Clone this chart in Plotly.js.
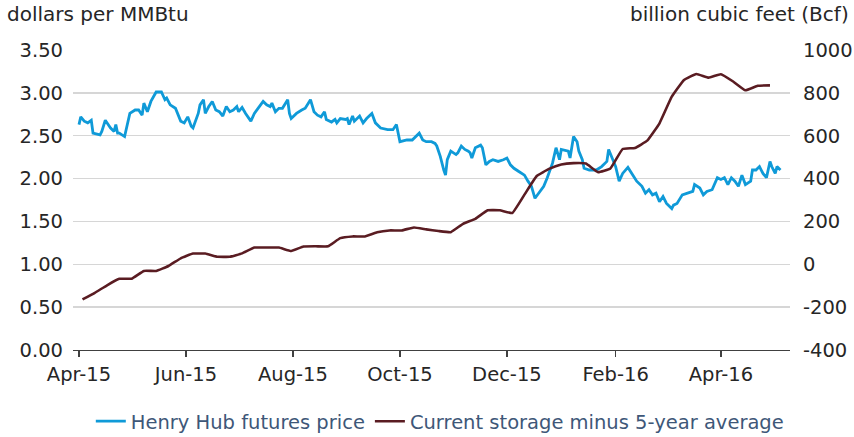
<!DOCTYPE html>
<html>
<head>
<meta charset="utf-8">
<script src="https://cdn.plot.ly/plotly-3.0.1.min.js"></script>
<style>html,body{margin:0;padding:0;background:#fff;}#chart{width:854px;height:437px;}</style>
</head>
<body>
<div id="chart"></div>
<script>
// Henry Hub futures price (dollars per MMBtu)
var priceDates = ['2015-04-01','2015-04-02','2015-04-04','2015-04-06','2015-04-08','2015-04-09','2015-04-13','2015-04-14','2015-04-16','2015-04-19','2015-04-21','2015-04-22','2015-04-23','2015-04-24','2015-04-27','2015-04-30','2015-05-03','2015-05-05','2015-05-07','2015-05-08','2015-05-10','2015-05-12','2015-05-15','2015-05-18','2015-05-20','2015-05-21','2015-05-23','2015-05-26','2015-05-29','2015-05-31','2015-06-02','2015-06-04','2015-06-05','2015-06-08','2015-06-09','2015-06-11','2015-06-12','2015-06-14','2015-06-16','2015-06-18','2015-06-20','2015-06-22','2015-06-24','2015-06-26','2015-06-28','2015-06-30','2015-07-01','2015-07-03','2015-07-05','2015-07-08','2015-07-10','2015-07-13','2015-07-15','2015-07-17','2015-07-19','2015-07-20','2015-07-22','2015-07-24','2015-07-26','2015-07-29','2015-07-30','2015-07-31','2015-08-03','2015-08-06','2015-08-08','2015-08-11','2015-08-13','2015-08-15','2015-08-17','2015-08-19','2015-08-20','2015-08-23','2015-08-25','2015-08-26','2015-08-28','2015-08-31','2015-09-01','2015-09-02','2015-09-04','2015-09-05','2015-09-08','2015-09-10','2015-09-12','2015-09-15','2015-09-17','2015-09-20','2015-09-24','2015-09-27','2015-09-29','2015-10-01','2015-10-05','2015-10-08','2015-10-10','2015-10-12','2015-10-14','2015-10-16','2015-10-19','2015-10-21','2015-10-22','2015-10-24','2015-10-26','2015-10-27','2015-10-28','2015-10-30','2015-11-02','2015-11-03','2015-11-05','2015-11-07','2015-11-09','2015-11-10','2015-11-11','2015-11-13','2015-11-16','2015-11-17','2015-11-19','2015-11-21','2015-11-23','2015-11-26','2015-11-29','2015-12-01','2015-12-03','2015-12-05','2015-12-08','2015-12-11','2015-12-13','2015-12-15','2015-12-17','2015-12-19','2015-12-22','2015-12-24','2015-12-26','2015-12-27','2015-12-29','2015-12-31','2016-01-01','2016-01-03','2016-01-05','2016-01-06','2016-01-08','2016-01-10','2016-01-11','2016-01-13','2016-01-14','2016-01-17','2016-01-21','2016-01-24','2016-01-27','2016-01-28','2016-01-30','2016-02-01','2016-02-03','2016-02-05','2016-02-08','2016-02-11','2016-02-13','2016-02-16','2016-02-18','2016-02-20','2016-02-22','2016-02-24','2016-02-26','2016-02-28','2016-03-01','2016-03-04','2016-03-05','2016-03-07','2016-03-10','2016-03-13','2016-03-16','2016-03-17','2016-03-20','2016-03-22','2016-03-24','2016-03-27','2016-03-30','2016-04-01','2016-04-03','2016-04-05','2016-04-07','2016-04-09','2016-04-11','2016-04-13','2016-04-15','2016-04-18','2016-04-19','2016-04-21','2016-04-23','2016-04-25','2016-04-27','2016-04-29','2016-04-30','2016-05-02','2016-05-03','2016-05-05'];
var priceValues = [2.63,2.72,2.67,2.65,2.68,2.53,2.51,2.55,2.68,2.59,2.55,2.63,2.53,2.53,2.49,2.76,2.80,2.80,2.74,2.88,2.78,2.90,3.01,3.01,2.92,2.94,2.86,2.82,2.67,2.65,2.72,2.61,2.59,2.76,2.86,2.92,2.76,2.84,2.90,2.80,2.78,2.73,2.84,2.78,2.80,2.84,2.78,2.83,2.76,2.67,2.76,2.84,2.90,2.86,2.84,2.88,2.78,2.82,2.82,2.92,2.76,2.70,2.76,2.80,2.82,2.92,2.78,2.74,2.72,2.78,2.69,2.66,2.69,2.65,2.70,2.69,2.70,2.63,2.73,2.67,2.73,2.65,2.70,2.76,2.65,2.59,2.57,2.57,2.63,2.43,2.45,2.45,2.49,2.53,2.45,2.43,2.43,2.41,2.38,2.26,2.10,2.04,2.22,2.32,2.28,2.30,2.38,2.34,2.32,2.30,2.24,2.36,2.39,2.36,2.16,2.20,2.22,2.20,2.22,2.24,2.16,2.12,2.08,2.04,1.97,1.91,1.77,1.83,1.91,2.01,2.14,2.18,2.36,2.22,2.34,2.33,2.32,2.24,2.49,2.43,2.32,2.22,2.12,2.10,2.10,2.14,2.20,2.34,2.24,2.14,1.97,2.06,2.13,2.03,1.97,1.91,1.83,1.87,1.81,1.83,1.73,1.79,1.71,1.65,1.69,1.71,1.81,1.83,1.85,1.93,1.89,1.81,1.85,1.87,2.01,1.99,2.01,1.93,2.01,1.97,1.91,2.04,1.93,1.97,2.10,2.10,2.14,2.06,2.01,2.20,2.14,2.06,2.14,2.10];

// Current storage minus 5-year average (Bcf), weekly
var storageDates = ['2015-04-03','2015-04-10','2015-04-17','2015-04-24','2015-05-01','2015-05-08','2015-05-15','2015-05-22','2015-05-29','2015-06-05','2015-06-12','2015-06-19','2015-06-26','2015-07-03','2015-07-10','2015-07-17','2015-07-24','2015-07-31','2015-08-07','2015-08-14','2015-08-21','2015-08-28','2015-09-04','2015-09-11','2015-09-18','2015-09-25','2015-10-02','2015-10-09','2015-10-16','2015-10-23','2015-10-30','2015-11-06','2015-11-13','2015-11-20','2015-11-27','2015-12-04','2015-12-11','2015-12-18','2015-12-25','2016-01-01','2016-01-08','2016-01-15','2016-01-22','2016-01-29','2016-02-05','2016-02-12','2016-02-19','2016-02-26','2016-03-04','2016-03-11','2016-03-18','2016-03-25','2016-04-01','2016-04-08','2016-04-15','2016-04-22','2016-04-29'];
var storageValues = [-164,-133,-98,-68,-67,-31,-31,-8,28,50,50,35,35,51,78,78,78,62,83,84,84,122,130,130,149,158,158,172,163,155,150,189,212,252,252,239,325,412,445,466,472,470,430,447,538,543,577,658,782,860,888,871,887,853,812,833,835];

// Axis ticks
var priceTickVals = [0,0.5,1,1.5,2,2.5,3,3.5];
var priceTickText = ['0.00','0.50','1.00','1.50','2.00','2.50','3.00','3.50'];
var storageTickVals = [-400,-200,0,200,400,600,800,1000];
var storageTickText = ['-400','-200','0','200','400','600','800','1000'];
var seriesNames = ['Henry Hub futures price','Current storage minus 5-year average'];

var FONT = 'DejaVu Sans, Liberation Sans, Arial, sans-serif';
var TXT = '#262626';
var FS = 19.5;

var traces = [
  {x: priceDates, y: priceValues, type: 'scatter', mode: 'lines', name: seriesNames[0],
   line: {color: '#0F9AD8', width: 2.8}, yaxis: 'y', hoverinfo: 'skip'},
  {x: storageDates, y: storageValues, type: 'scatter', mode: 'lines', name: seriesNames[1],
   line: {color: '#5A1C22', width: 2.6, shape: 'spline', smoothing: 0.3}, yaxis: 'y2', hoverinfo: 'skip'}
];

var layout = {
  width: 854, height: 437,
  margin: {l: 73, r: 64, t: 50, b: 87, pad: 0},
  paper_bgcolor: '#ffffff', plot_bgcolor: '#ffffff',
  font: {family: FONT, size: FS, color: TXT},
  showlegend: true,
  legend: {orientation: 'h', xref: 'container', yref: 'container', x: 0.515, xanchor: 'center',
           y: 0.08, yanchor: 'top', font: {family: FONT, size: FS, color: '#3E5778'},
           itemwidth: 30, tracegroupgap: 0, itemclick: false},
  xaxis: {type: 'date', range: ['2015-03-28 14:00', '2016-05-10 10:00'],
          tick0: '2015-04-01', dtick: 'M2', tickformat: '%b-%y',
          showgrid: false, zeroline: false, showline: true, linecolor: '#404040', linewidth: 1.3,
          ticks: 'outside', ticklen: 6, tickwidth: 1.3, tickcolor: '#404040',
          tickfont: {family: FONT, size: FS, color: TXT}, fixedrange: true},
  yaxis: {range: [0, 3.5], tickmode: 'array', tickvals: priceTickVals, ticktext: priceTickText,
          showgrid: true, gridcolor: '#D6D6D6', gridwidth: 1.5, zeroline: false, showline: false,
          ticks: '', ticklabelstandoff: 9, tickfont: {family: FONT, size: FS, color: TXT}, fixedrange: true},
  yaxis2: {range: [-400, 1000], overlaying: 'y', side: 'right', tickmode: 'array',
           tickvals: storageTickVals, ticktext: storageTickText,
           showgrid: false, zeroline: false, showline: false, ticks: '', ticklabelstandoff: 12,
           tickfont: {family: FONT, size: FS, color: TXT}, fixedrange: true},
  annotations: [
    {text: 'dollars per MMBtu', xref: 'paper', yref: 'paper', x: -0.095, y: 1.165,
     xanchor: 'left', yanchor: 'top', showarrow: false, font: {family: FONT, size: 20, color: TXT}},
    {text: 'billion cubic feet (Bcf)', xref: 'paper', yref: 'paper', x: 1.085, y: 1.165,
     xanchor: 'right', yanchor: 'top', showarrow: false, font: {family: FONT, size: 20, color: TXT}}
  ]
};

Plotly.newPlot('chart', traces, layout, {displayModeBar: false, staticPlot: true});
</script>
</body>
</html>
